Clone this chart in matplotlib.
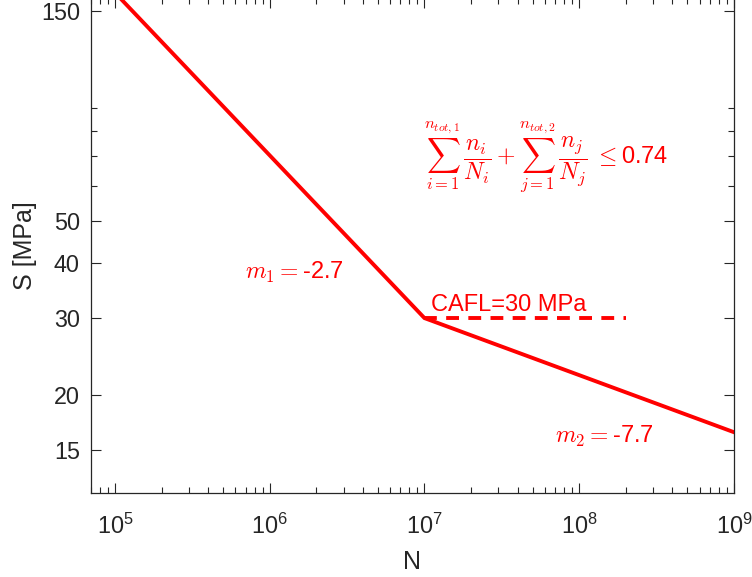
import matplotlib
matplotlib.use('Agg')
import matplotlib.pyplot as plt
from matplotlib.ticker import FixedLocator, FixedFormatter, NullFormatter, LogLocator, LogFormatterMathtext

plt.rcParams['font.family'] = ['Liberation Sans', 'DejaVu Sans']
plt.rcParams['mathtext.fontset'] = 'cm'

# S-N curve knee points
cycles = [1e5, 1e7, 1e9]
stress = [165, 30, 16.5]
# constant amplitude fatigue limit
cafl_cycles = [1e7, 2e8]
cafl_stress = [30, 30]

y_ticks = [15, 20, 30, 40, 50, 150]
y_minor = [60, 70, 80, 90]

axis_col = '#262626'

fig = plt.figure(figsize=(7.52, 5.77), dpi=100)
ax = fig.add_axes([0.121, 0.1456, 0.855, 0.858])

ax.plot(cycles, stress, color='red', lw=2.8, solid_joinstyle='miter')
ax.plot(cafl_cycles, cafl_stress, color='red', lw=2.8, ls=(0, (3.3, 2.4)))

ax.set_xscale('log')
ax.set_yscale('log')
ax.set_xlim(7e4, 1e9)
ax.set_ylim(12, 160.5)

ax.yaxis.set_major_locator(FixedLocator(y_ticks))
ax.yaxis.set_major_formatter(FixedFormatter([str(t) for t in y_ticks]))
ax.yaxis.set_minor_locator(FixedLocator(y_minor))
ax.yaxis.set_minor_formatter(NullFormatter())
ax.xaxis.set_major_locator(LogLocator(base=10))
ax.xaxis.set_major_formatter(LogFormatterMathtext())
ax.xaxis.set_minor_locator(LogLocator(base=10, subs=range(2, 10)))
ax.xaxis.set_minor_formatter(NullFormatter())

ax.tick_params(which='both', direction='in', top=True, right=True, colors=axis_col,
               labelsize=16.8, width=0.8)
ax.tick_params(which='major', length=7, pad=8)
ax.tick_params(axis='x', which='major', pad=15)
ax.tick_params(which='minor', length=4)
for s in ax.spines.values():
    s.set_color(axis_col)
    s.set_linewidth(0.9)

ax.set_xlabel('N', fontsize=18, color=axis_col, labelpad=8)
ax.set_ylabel('S [MPa]', fontsize=18, color=axis_col, labelpad=3)

ax.text(1.11e7, 31.1, 'CAFL=30 MPa', color='red', fontsize=17, va='baseline', ha='left')
ax.text(6.9e5, 38.1, r'$m_1=$-2.7', color='red', fontsize=17, va='center', ha='left')
ax.text(7e7, 16.1, r'$m_2=$-7.7', color='red', fontsize=17, va='center', ha='left')
ax.text(1e7, 69.6,
        r'$\sum_{i=1}^{n_{tot,1}}\,\dfrac{n_i}{N_i}+\sum_{j=1}^{n_{tot,2}}\,\dfrac{n_j}{N_j}\;\leq$0.74',
        color='red', fontsize=17, va='center', ha='left')

fig.savefig('out.png', dpi=100)
